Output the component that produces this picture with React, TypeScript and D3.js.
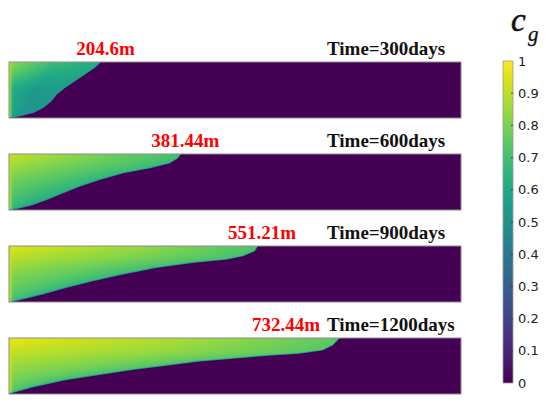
import React, { useMemo } from 'react'
import * as d3 from 'd3'

// simulation snapshots
const times = [300, 600, 900, 1200]
const frontLengths = [204.6, 381.44, 551.21, 732.44]

// interface position (m) at depth fraction (0 = top, 1 = bottom)
const depth300 = [0, 0.107, 0.226, 0.345, 0.464, 0.583, 0.702, 0.821, 0.911, 0.97, 1]
const front300 = [204, 190, 168, 146, 124, 106, 94, 76, 54, 24, 2]
const depth600 = [0, 0.077, 0.167, 0.256, 0.345, 0.464, 0.583, 0.702, 0.821, 0.911, 0.97, 1]
const front600 = [381, 374, 356, 312, 253, 201, 157, 120, 84, 54, 24, 6]
const depth900 = [0, 0.095, 0.183, 0.243, 0.302, 0.391, 0.509, 0.627, 0.746, 0.864, 0.953, 1]
const front900 = [551, 544, 518, 482, 408, 327, 253, 187, 128, 76, 31, 6]
const depth1200 = [0, 0.13, 0.22, 0.28, 0.32, 0.42, 0.57, 0.75, 0.88, 0.98, 1]
const front1200 = [732, 717, 695, 644, 570, 423, 275, 128, 54, 9, 0]

// gas saturation inside the plume: rows = depth 0 / 0.5 / 1, cols = left / middle / front
const field300 = [[0.85, 0.68, 0.62], [0.62, 0.53, 0.56], [0.6, 0.52, 0.52]]
const field600 = [[0.92, 0.8, 0.7], [0.78, 0.72, 0.65], [0.68, 0.63, 0.6]]
const field900 = [[0.95, 0.85, 0.72], [0.82, 0.76, 0.68], [0.72, 0.68, 0.62]]
const field1200 = [[0.97, 0.88, 0.75], [0.85, 0.8, 0.72], [0.75, 0.7, 0.65]]
const leftEdge = [0.88, 0.9, 0.93, 0.95]

const cbTicks = [0, 0.1, 0.2, 0.3, 0.4, 0.5, 0.6, 0.7, 0.8, 0.9, 1]

const depths = [depth300, depth600, depth900, depth1200]
const fronts = [front300, front600, front900, front1200]
const fields = [field300, field600, field900, field1200]

const W = 550
const H = 405
const PH = 56

const x = d3.scaleLinear().domain([0, 1000]).range([9, 461])
const panelTop = d3.scaleLinear().domain([0, 3]).range([62, 338])
const cbY = d3.scaleLinear().domain([0, 1]).range([383, 61])
const color = d3.scaleSequential(d3.interpolateViridis).domain([0, 1])

const lut = d3.range(256).map(i => d3.rgb(color(i / 255)))

function bilinear(grid: number[][], r: number, d: number) {
  const row = (g: number[]) => r < 0.5 ? g[0] + (g[1] - g[0]) * r * 2 : g[1] + (g[2] - g[1]) * (r - 0.5) * 2
  const a = grid.map(row)
  return d < 0.5 ? a[0] + (a[1] - a[0]) * d * 2 : a[1] + (a[2] - a[1]) * (d - 0.5) * 2
}

function renderField(dep: number[], fr: number[], grid: number[][], edgeV: number) {
  const pw = x(1000) - x(0)
  const canvas = document.createElement('canvas')
  canvas.width = pw
  canvas.height = PH
  const ctx = canvas.getContext('2d')!
  const img = ctx.createImageData(pw, PH)
  const front = d3.scaleLinear().domain(dep).range(fr.map(v => x(v) - x(0))).clamp(true)
  const ss = 3
  for (let py = 0; py < PH; py++) {
    for (let px = 0; px < pw; px++) {
      let R = 0, G = 0, B = 0
      for (let j = 0; j < ss; j++) {
        const d = (py + (j + 0.5) / ss) / PH
        const f = front(d)
        const slope = (front(Math.min(1, d + 0.01)) - front(Math.max(0, d - 0.01))) / (0.02 * PH)
        for (let i = 0; i < ss; i++) {
          const sx = px + (i + 0.5) / ss
          let v = 0
          if (sx < f) {
            v = bilinear(grid, sx / f, d)
            if (sx < 4) v = edgeV + (v - edgeV) * (sx / 4)
            const perp = (f - sx) / Math.sqrt(1 + slope * slope)
            if (perp < 1.2) v = 0.42 + (v - 0.42) * (perp / 1.2)
          }
          const c = lut[Math.max(0, Math.min(255, Math.round(v * 255)))]
          R += c.r; G += c.g; B += c.b
        }
      }
      const k = (py * pw + px) * 4
      const n = ss * ss
      img.data[k] = R / n
      img.data[k + 1] = G / n
      img.data[k + 2] = B / n
      img.data[k + 3] = 255
    }
  }
  ctx.putImageData(img, 0, 0)
  return canvas.toDataURL()
}

export default function App() {
  const images = useMemo(() => times.map((_, i) => renderField(depths[i], fronts[i], fields[i], leftEdge[i])), [])

  const serif = "'Liberation Serif', 'Times New Roman', serif"
  const timeX = 327

  return (
    <svg width={W} height={H} style={{ position: 'absolute', left: 0, top: 0, background: '#fff' }}>
      <defs>
        <linearGradient id="cbGrad" x1="0" y1="1" x2="0" y2="0">
          {d3.range(0, 1.0001, 0.05).map(t => (
            <stop key={t} offset={t} stopColor={color(t)} />
          ))}
        </linearGradient>
      </defs>

      {times.map((t, i) => {
        const top = panelTop(i)
        const frontPx = x(frontLengths[i])
        const labelW = 66
        const cx = Math.min(frontPx + 4, timeX - 8 - labelW / 2)
        return (
          <g key={t}>
            <image x={x(0)} y={top} width={x(1000) - x(0)} height={PH} href={images[i]} preserveAspectRatio="none" />
            <rect x={x(0)} y={top} width={x(1000) - x(0)} height={PH} fill="none" stroke="#8c8c8c" strokeWidth={1} />
            <text x={cx} y={top - 7.5} textAnchor="middle" fontFamily={serif} fontWeight="bold" fontSize={19} fill="#ff0000">
              {frontLengths[i] + 'm'}
            </text>
            <text x={timeX} y={top - 7.5} fontFamily={serif} fontWeight="bold" fontSize={19} fill="#111">
              {`Time=${t}days`}
            </text>
          </g>
        )
      })}

      {/* colorbar */}
      <rect x={503} y={cbY(1)} width={10} height={cbY(0) - cbY(1)} fill="url(#cbGrad)" stroke="#9a9a9a" strokeWidth={0.8} />
      {cbTicks.map(t => (
        <g key={t}>
          {t > 0 && t < 1 && <line x1={511} x2={513} y1={cbY(t)} y2={cbY(t)} stroke="#333" strokeWidth={0.8} />}
          <text x={518} y={cbY(t)} dy="0.35em" fontFamily="'DejaVu Sans', sans-serif" fontSize={13} fill="#222">
            {d3.format('~g')(t)}
          </text>
        </g>
      ))}
      <text x={511} y={31} fontFamily={serif} fontStyle="italic" fontSize={33} stroke="#111" strokeWidth={0.6} fill="#111">c</text>
      <text x={528} y={41} fontFamily={serif} fontStyle="italic" fontSize={21} stroke="#111" strokeWidth={0.3} fill="#111">g</text>
    </svg>
  )
}
